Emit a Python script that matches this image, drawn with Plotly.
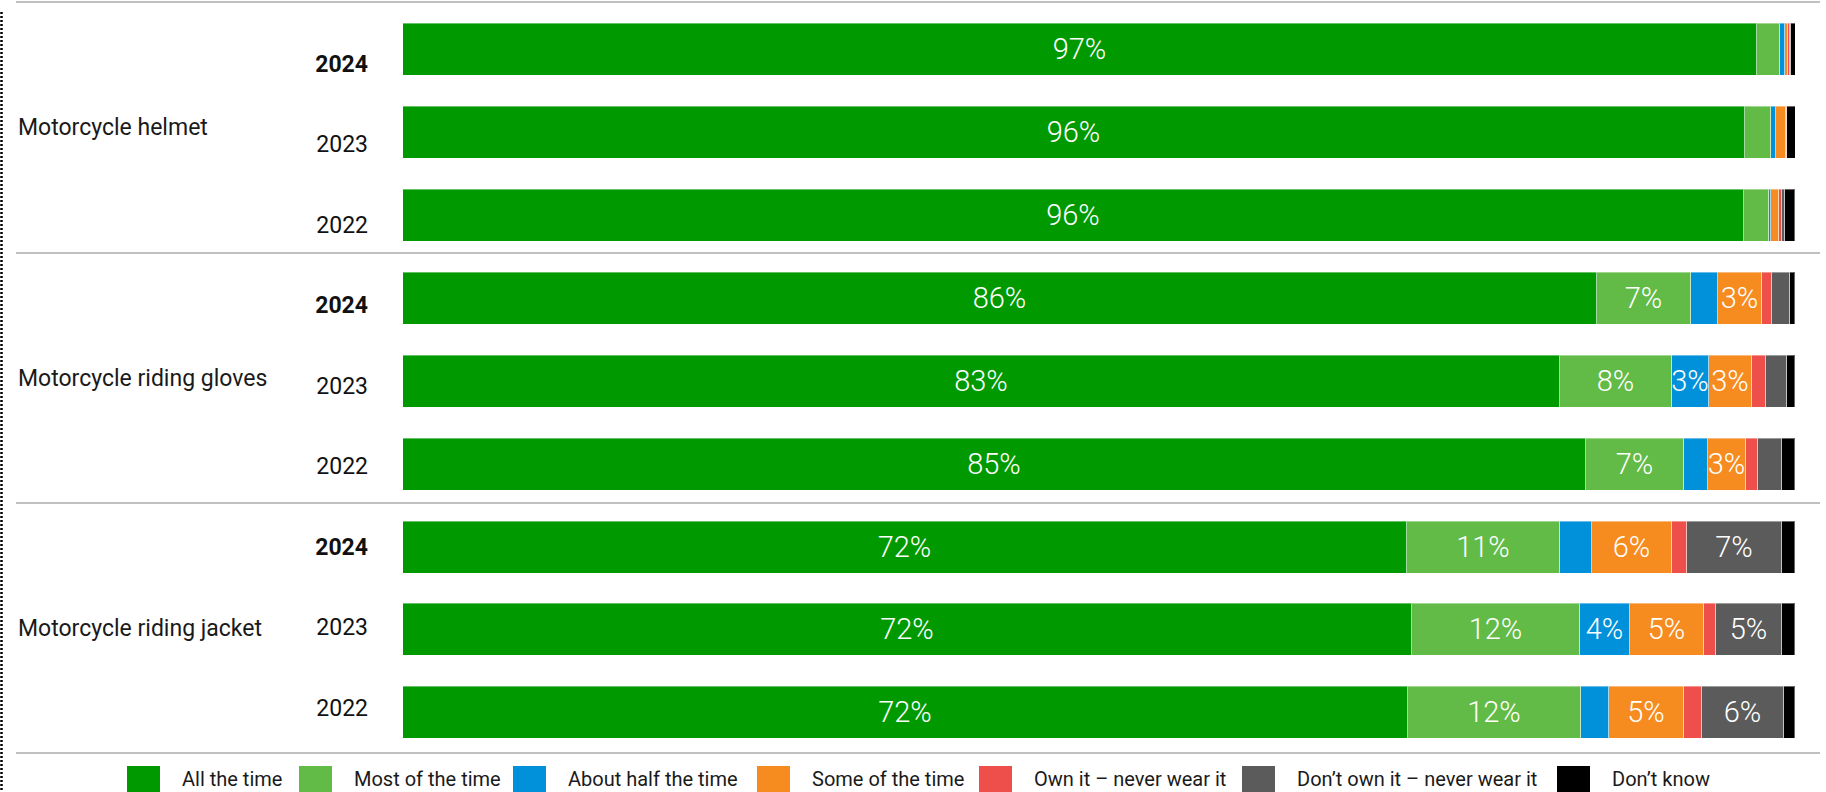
import plotly.graph_objects as go

# ---------------- data ----------------
ITEMS = ["Motorcycle helmet", "Motorcycle riding gloves", "Motorcycle riding jacket"]
YEARS = ["2024", "2023", "2022"]

SERIES = ["All the time", "Most of the time", "About half the time", "Some of the time",
          "Own it – never wear it", "Don’t own it – never wear it", "Don’t know"]

# rows: helmet 2024/2023/2022, gloves 2024/2023/2022, jacket 2024/2023/2022
ALL_THE_TIME = [97.3, 96.4, 96.3, 85.8, 83.1, 85.0, 72.1, 72.5, 72.2]
MOST_OF_TIME = [1.6, 1.85, 1.8, 6.7, 8.07, 7.06, 10.99, 12.07, 12.45]
HALF_TIME = [0.4, 0.4, 0.2, 1.99, 2.66, 1.7, 2.3, 3.57, 1.99]
SOME_TIME = [0.2, 0.7, 0.55, 3.16, 3.11, 2.73, 5.75, 5.34, 5.41]
OWN_NEVER = [0.15, 0.05, 0.25, 0.69, 0.96, 0.84, 1.1, 0.86, 1.25]
DONT_OWN_NEVER = [0.05, 0.05, 0.15, 1.29, 1.49, 1.72, 6.8, 4.69, 5.92]
DONT_KNOW = [0.35, 0.6, 0.75, 0.38, 0.6, 0.96, 0.93, 1.0, 0.79]

VALUES = [ALL_THE_TIME, MOST_OF_TIME, HALF_TIME, SOME_TIME, OWN_NEVER, DONT_OWN_NEVER, DONT_KNOW]
COLORS = ["#009A00", "#62BB46", "#0091DA", "#F68B1F", "#EF4F4A", "#5B5B5B", "#000000"]

# ---------------- layout constants ----------------
W, H = 1826, 792
FONT = "Roboto"
PLOT_LEFT, PLOT_RIGHT = 403, 1795
BAR_TOP, BAR_BOTTOM = 8.87, 754.6          # pixel extent of the 9 bar slots
LABEL_FIRST, LABEL_STEP = 63.8, 80.5       # year-label placement (pixels)
SEP_PX = [2, 253, 503, 753]
LEGEND_X = [127, 299, 513, 757, 979, 1242, 1557]
SWATCH = 33
LEGEND_TOP = 766
LEGEND_TEXT_Y = 779

n_rows = len(ITEMS) * len(YEARS)
rows = list(range(n_rows))


def px_x(p):
    return p / W


def px_y(p):
    return 1 - p / H


fig = go.Figure()
for name, vals, col in zip(SERIES, VALUES, COLORS):
    texts = [f"{round(v)}%" if round(v) >= 3 else "" for v in vals]
    fig.add_trace(go.Bar(
        y=rows, x=vals, orientation="h", name=name,
        marker=dict(color=col, line=dict(color="rgba(255,255,255,0.4)", width=1)),
        width=0.628,
        text=texts, textposition="inside", insidetextanchor="middle",
        constraintext="none", textangle=0,
        textfont=dict(family=FONT, size=29, color="white", weight=300),
        hoverinfo="skip", showlegend=False,
    ))

# invisible trace carrying the year tick axis
year_text = []
for item in ITEMS:
    for y in YEARS:
        year_text.append(f"<b>{y}</b>" if y == YEARS[0] else y)
fig.add_trace(go.Scatter(x=[None] * n_rows, y=rows, yaxis="y2", mode="markers",
                         showlegend=False, hoverinfo="skip"))

r_span = (BAR_BOTTOM - BAR_TOP) / LABEL_STEP
r0 = -(LABEL_FIRST - BAR_TOP) / LABEL_STEP
r1 = r0 + r_span

shapes = []
for s in SEP_PX:
    shapes.append(dict(type="line", xref="paper", yref="paper",
                       x0=px_x(16), x1=px_x(1820), y0=px_y(s), y1=px_y(s),
                       line=dict(color="#ABABAB", width=1.5)))
shapes.append(dict(type="line", xref="paper", yref="paper",
                   x0=px_x(1.5), x1=px_x(1.5), y0=px_y(12), y1=px_y(792),
                   line=dict(color="#000000", width=2.5, dash="2px,2px")))

annotations = []
for i, item in enumerate(ITEMS):
    cy = (SEP_PX[i] + SEP_PX[i + 1]) / 2
    annotations.append(dict(xref="paper", yref="paper", x=px_x(16), y=px_y(cy),
                            xanchor="left", yanchor="middle", text=item, showarrow=False,
                            font=dict(family=FONT, size=23, color="#1a1a1a")))

for name, col, lx in zip(SERIES, COLORS, LEGEND_X):
    shapes.append(dict(type="rect", xref="paper", yref="paper",
                       x0=px_x(lx), x1=px_x(lx + SWATCH),
                       y0=px_y(LEGEND_TOP), y1=px_y(LEGEND_TOP + SWATCH),
                       fillcolor=col, line=dict(width=0)))
    annotations.append(dict(xref="paper", yref="paper", x=px_x(lx + SWATCH + 20),
                            y=px_y(LEGEND_TEXT_Y), xanchor="left", yanchor="middle",
                            text=name, showarrow=False,
                            font=dict(family=FONT, size=20, color="#1a1a1a")))

fig.update_layout(
    width=W, height=H, autosize=False,
    margin=dict(l=0, r=0, t=0, b=0),
    paper_bgcolor="white", plot_bgcolor="white",
    barmode="stack", bargap=0,
    showlegend=False,
    font=dict(family=FONT),
    xaxis=dict(domain=[px_x(PLOT_LEFT), px_x(PLOT_RIGHT)], range=[0, 100],
               visible=False, fixedrange=True),
    yaxis=dict(domain=[px_y(BAR_BOTTOM), px_y(BAR_TOP)],
               range=[n_rows - 0.5, -0.5], showticklabels=False,
               showgrid=False, zeroline=False, showline=False, ticks=""),
    yaxis2=dict(overlaying="y", anchor="x", side="left",
                range=[r1, r0], tickmode="array", tickvals=rows, ticktext=year_text,
                tickfont=dict(family=FONT, size=23, color="#111111"),
                showgrid=False, zeroline=False, showline=False, ticks="",
                ticklabelstandoff=34),
    shapes=shapes,
    annotations=annotations,
)

fig.write_html("out.html", config={"displayModeBar": False},
               post_script="document.body.style.margin='0';")
